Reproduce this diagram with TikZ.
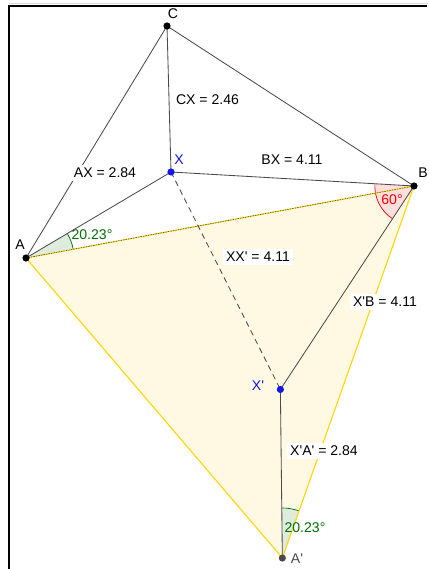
\documentclass[tikz,border=0pt]{standalone}
\usepackage{fontspec}
\setmainfont{Liberation Sans}
\usetikzlibrary{calc, angles, positioning}

\definecolor{polyfill}{RGB}{255,249,228}
\definecolor{polyedge}{RGB}{255,214,10}
\definecolor{segline}{RGB}{75,75,75}
\definecolor{ptblue}{RGB}{20,20,235}
\definecolor{anggreen}{RGB}{0,110,0}
\definecolor{anggreenfill}{RGB}{222,236,222}
\definecolor{angred}{RGB}{245,0,0}
\definecolor{angredfill}{RGB}{255,222,222}
\newcommand{\prm}{\textquotesingle}

\begin{document}
\begin{tikzpicture}[
    x=0.025cm, y=-0.025cm,
    font=\fontsize{10}{12}\selectfont,
    seg/.style={segline, line width=0.6pt},
    edge/.style={polyedge, line width=0.8pt},
    dot/.style={circle, fill=black, inner sep=0pt, minimum size=0.18cm},
    bluedot/.style={dot, fill=ptblue},
    ptlabel/.style={inner sep=0pt},
    lenlabel/.style={fill=white, inner sep=2pt},
    greenangle/.style={draw=anggreen, fill=anggreenfill, line width=0.5pt},
    redangle/.style={draw=angred, fill=angredfill, line width=0.5pt}
  ]
    \useasboundingbox (0,0) rectangle (428,569);
    \draw[black!15, line width=0.6pt] (9,3.8) -- (428,3.8);
    \draw[black, line width=1.4pt] (9.3,569) |- (427,5.6);

    \coordinate (C) at (167,26);
    \coordinate (X) at (171,172);
    \coordinate (A) at (26,258);
    \coordinate (B) at (414,186);
    \coordinate (X') at ($(B)!1!60:(X)$);
    \coordinate (A') at ($(B)!1!60:(A)$);

    \fill[polyfill] (A) -- (B) -- (A') -- cycle;
    \pic[greenangle, angle radius=1.2cm] {angle=B--A--X};
    \pic[redangle, angle radius=0.98cm] {angle=X--B--X'};
    \pic[greenangle, angle radius=1.25cm] {angle=B--A'--X'};

    \draw[edge] (B) -- (A') -- (A) -- (B);
    \draw[segline, line width=0.4pt, dash pattern=on 1pt off 0.8pt] (A) -- (B);
    \draw[seg] (A) -- (C) -- (B);
    \draw[seg] (C) -- (X);
    \draw[seg] (A) -- (X) -- (B);
    \draw[seg] (B) -- (X') -- (A');
    \draw[seg, dash pattern=on 4pt off 3pt] (X) -- (X');

    \node[dot] (dC) at (C) {};
    \node[dot] (dA) at (A) {};
    \node[dot] (dB) at (B) {};
    \node[bluedot] (dX) at (X) {};
    \node[bluedot] (dX') at (X') {};
    \node[dot, fill=segline] (dA') at (A') {};

    \node[ptlabel] (lC) at (173,14) {C};
    \node[ptlabel, text=ptblue] (lX) at (179,160) {X};
    \node[ptlabel] (lA) at (20,245) {A};
    \node[ptlabel] (lB) at (423,173) {B};
    \node[ptlabel, text=ptblue] (lX') at (258,386) {X\prm};
    \node[ptlabel, text=segline] (lA') at (297,559) {A\prm};

    \node[lenlabel] (lenCX) at (207.5,100) {CX = 2.46};
    \node[lenlabel] (lenAX) at (105,173) {AX = 2.84};
    \node[lenlabel] (lenBX) at (292,160) {BX = 4.11};
    \node[lenlabel] (lenXX) at (258,257) {XX\prm{} = 4.11};
    \node[lenlabel] (lenXB) at (385,302) {X\prm B = 4.11};
    \node[lenlabel] (lenXA) at (324,451) {X\prm A\prm{} = 2.84};

    \node[ptlabel, text=anggreen] (angA) at (92,235) {20.23°};
    \node[ptlabel, text=angred] (angB) at (392,200) {60°};
    \node[ptlabel, text=anggreen] (angA') at (305,528) {20.23°};
\end{tikzpicture}
\end{document}
